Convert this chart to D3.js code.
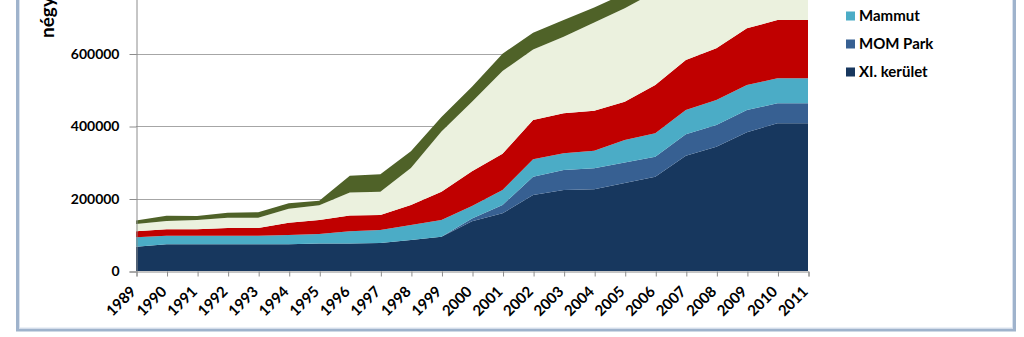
<!DOCTYPE html>
<html>
<head>
<meta charset="utf-8">
<script src="https://cdn.jsdelivr.net/npm/d3@7"></script>
<style>
  body { margin: 0; background: #fff; }
  svg { display: block; font-family: Lato, "Open Sans", sans-serif; }
</style>
</head>
<body>
<svg class="svg" width="1024" height="337"></svg>
<script>
const years = d3.range(1989, 2012)
const yTicks = [0, 200000, 400000, 600000, 800000]

// bottom to top (stack order)
const xiKerulet = [67000, 73700, 73700, 73700, 73700, 73700, 76000, 76000, 77000, 85500, 94700, 137000, 159000, 209600, 223400, 225300, 242800, 260100, 318100, 343000, 383000, 407400, 407400]
const momPark   = [0, 0, 0, 0, 0, 0, 0, 0, 0, 0, 0, 8000, 23000, 50500, 55200, 58000, 56200, 55200, 59000, 59800, 61100, 55200, 55200]
const mammut    = [26000, 23700, 23700, 23700, 23700, 25600, 26000, 34000, 36100, 41400, 46000, 34000, 41400, 48000, 46100, 48600, 62400, 64600, 67100, 68900, 69000, 69000, 69000]
const budaEgyeb = [16500, 17600, 17600, 21200, 21200, 34000, 38700, 43000, 41400, 55200, 78100, 96000, 100000, 108400, 110300, 110300, 105600, 133200, 138000, 142600, 156400, 160800, 160800]
const pest      = [20500, 23000, 25700, 28400, 28400, 38600, 40500, 63500, 64300, 102000, 166000, 192000, 228000, 194500, 211400, 243000, 258000, 257000, 218000, 206000, 170500, 162600, 167600]
const agglom    = [9000, 14600, 11000, 13900, 14900, 14800, 12800, 46500, 47900, 46000, 40000, 41000, 48000, 46000, 46000, 42000, 40000, 42000, 42000, 42000, 42000, 42000, 42000]

const series = [
    { name: 'XI. kerület', values: xiKerulet, color: '#17375e' },
    { name: 'MOM Park', values: momPark, color: '#376092' },
    { name: 'Mammut', values: mammut, color: '#4bacc6' },
    { name: 'Buda egyéb', values: budaEgyeb, color: '#c00000' },
    { name: 'Pest', values: pest, color: '#ebf1de' },
    { name: 'Agglomeráció', values: agglom, color: '#4f6228' }
]

const rows = years.map((y, i) => {
    const row = { year: y }
    series.forEach(s => row[s.name] = s.values[i])
    return row
})

const plot = { left: 136, right: 808, bottom: 271 }
const svg = d3.select('.svg')

const x = d3.scaleLinear().domain([1989, 2011]).range([plot.left, plot.right])
const y = d3.scaleLinear().domain([0, 800000]).range([plot.bottom, plot.bottom - 290])

// frame
svg.append('rect')
    .attr('x', 17.5).attr('y', -20).attr('width', 997).attr('height', 350)
    .attr('fill', 'none').attr('stroke', '#9fb3cc').attr('stroke-width', 3)
svg.append('rect')
    .attr('x', 19.5).attr('y', -20).attr('width', 993).attr('height', 348)
    .attr('fill', 'none').attr('stroke', '#d9e2ee').attr('stroke-width', 1)

// gridlines
svg.append('g').selectAll('line').data(yTicks.filter(d => d > 0)).join('line')
    .attr('x1', plot.left).attr('x2', plot.right)
    .attr('y1', d => Math.round(y(d)) + 0.5).attr('y2', d => Math.round(y(d)) + 0.5)
    .attr('stroke', '#a6a6a6')

// areas
const stack = d3.stack().keys(series.map(s => s.name))
const layers = stack(rows)
const area = d3.area()
    .x(d => x(d.data.year))
    .y0(d => y(d[0]))
    .y1(d => y(d[1]))

svg.append('g').selectAll('path').data(layers).join('path')
    .attr('d', area)
    .attr('fill', (d, i) => series[i].color)

// y axis
const yAxis = svg.append('g')
    .attr('transform', `translate(${plot.left + 0.5},0.5)`)
    .call(d3.axisLeft(y).tickValues(yTicks).tickFormat(d3.format('d')).tickSizeOuter(0).tickSize(7).tickPadding(10))
yAxis.select('.domain').attr('stroke', '#8c8c8c')
yAxis.selectAll('.tick line').attr('stroke', '#8c8c8c')
yAxis.selectAll('.tick text')
    .attr('font-family', 'Lato, sans-serif')
    .attr('font-weight', 'bold')
    .attr('font-size', 14)
    .attr('fill', '#000')

// x axis
const xAxis = svg.append('g')
    .attr('transform', `translate(0.5,${plot.bottom + 0.5})`)
    .call(d3.axisBottom(x).tickValues(years).tickFormat(d3.format('d')).tickSizeOuter(0).tickSize(5))
xAxis.select('.domain').attr('stroke', '#8c8c8c')
xAxis.selectAll('.tick line').attr('stroke', '#8c8c8c')
xAxis.selectAll('.tick text')
    .attr('font-family', 'Lato, sans-serif')
    .attr('font-weight', 'bold')
    .attr('font-size', 15)
    .attr('fill', '#000')
    .attr('text-anchor', 'end')
    .attr('dy', 0)
    .attr('y', 0)
    .attr('transform', 'translate(0,21) rotate(-45)')

// y title
svg.append('text')
    .attr('transform', 'translate(54,38) rotate(-90)')
    .attr('font-family', 'Lato, sans-serif')
    .attr('font-weight', 'bold')
    .attr('font-size', 19)
    .text('négyzetméter')

// legend (reverse order, top entries fall above the picture)
const legend = svg.append('g').selectAll('g').data(series.slice().reverse()).join('g')
    .attr('transform', (d, i) => `translate(846,${16 - (3 - i) * 28})`)
legend.append('rect')
    .attr('x', 0).attr('y', -4.5).attr('width', 9).attr('height', 9)
    .attr('fill', d => d.color)
legend.append('text')
    .attr('x', 13).attr('y', 5)
    .attr('font-family', 'Lato, sans-serif')
    .attr('font-weight', 'bold')
    .attr('font-size', 15)
    .text(d => d.name)
</script>
</body>
</html>
